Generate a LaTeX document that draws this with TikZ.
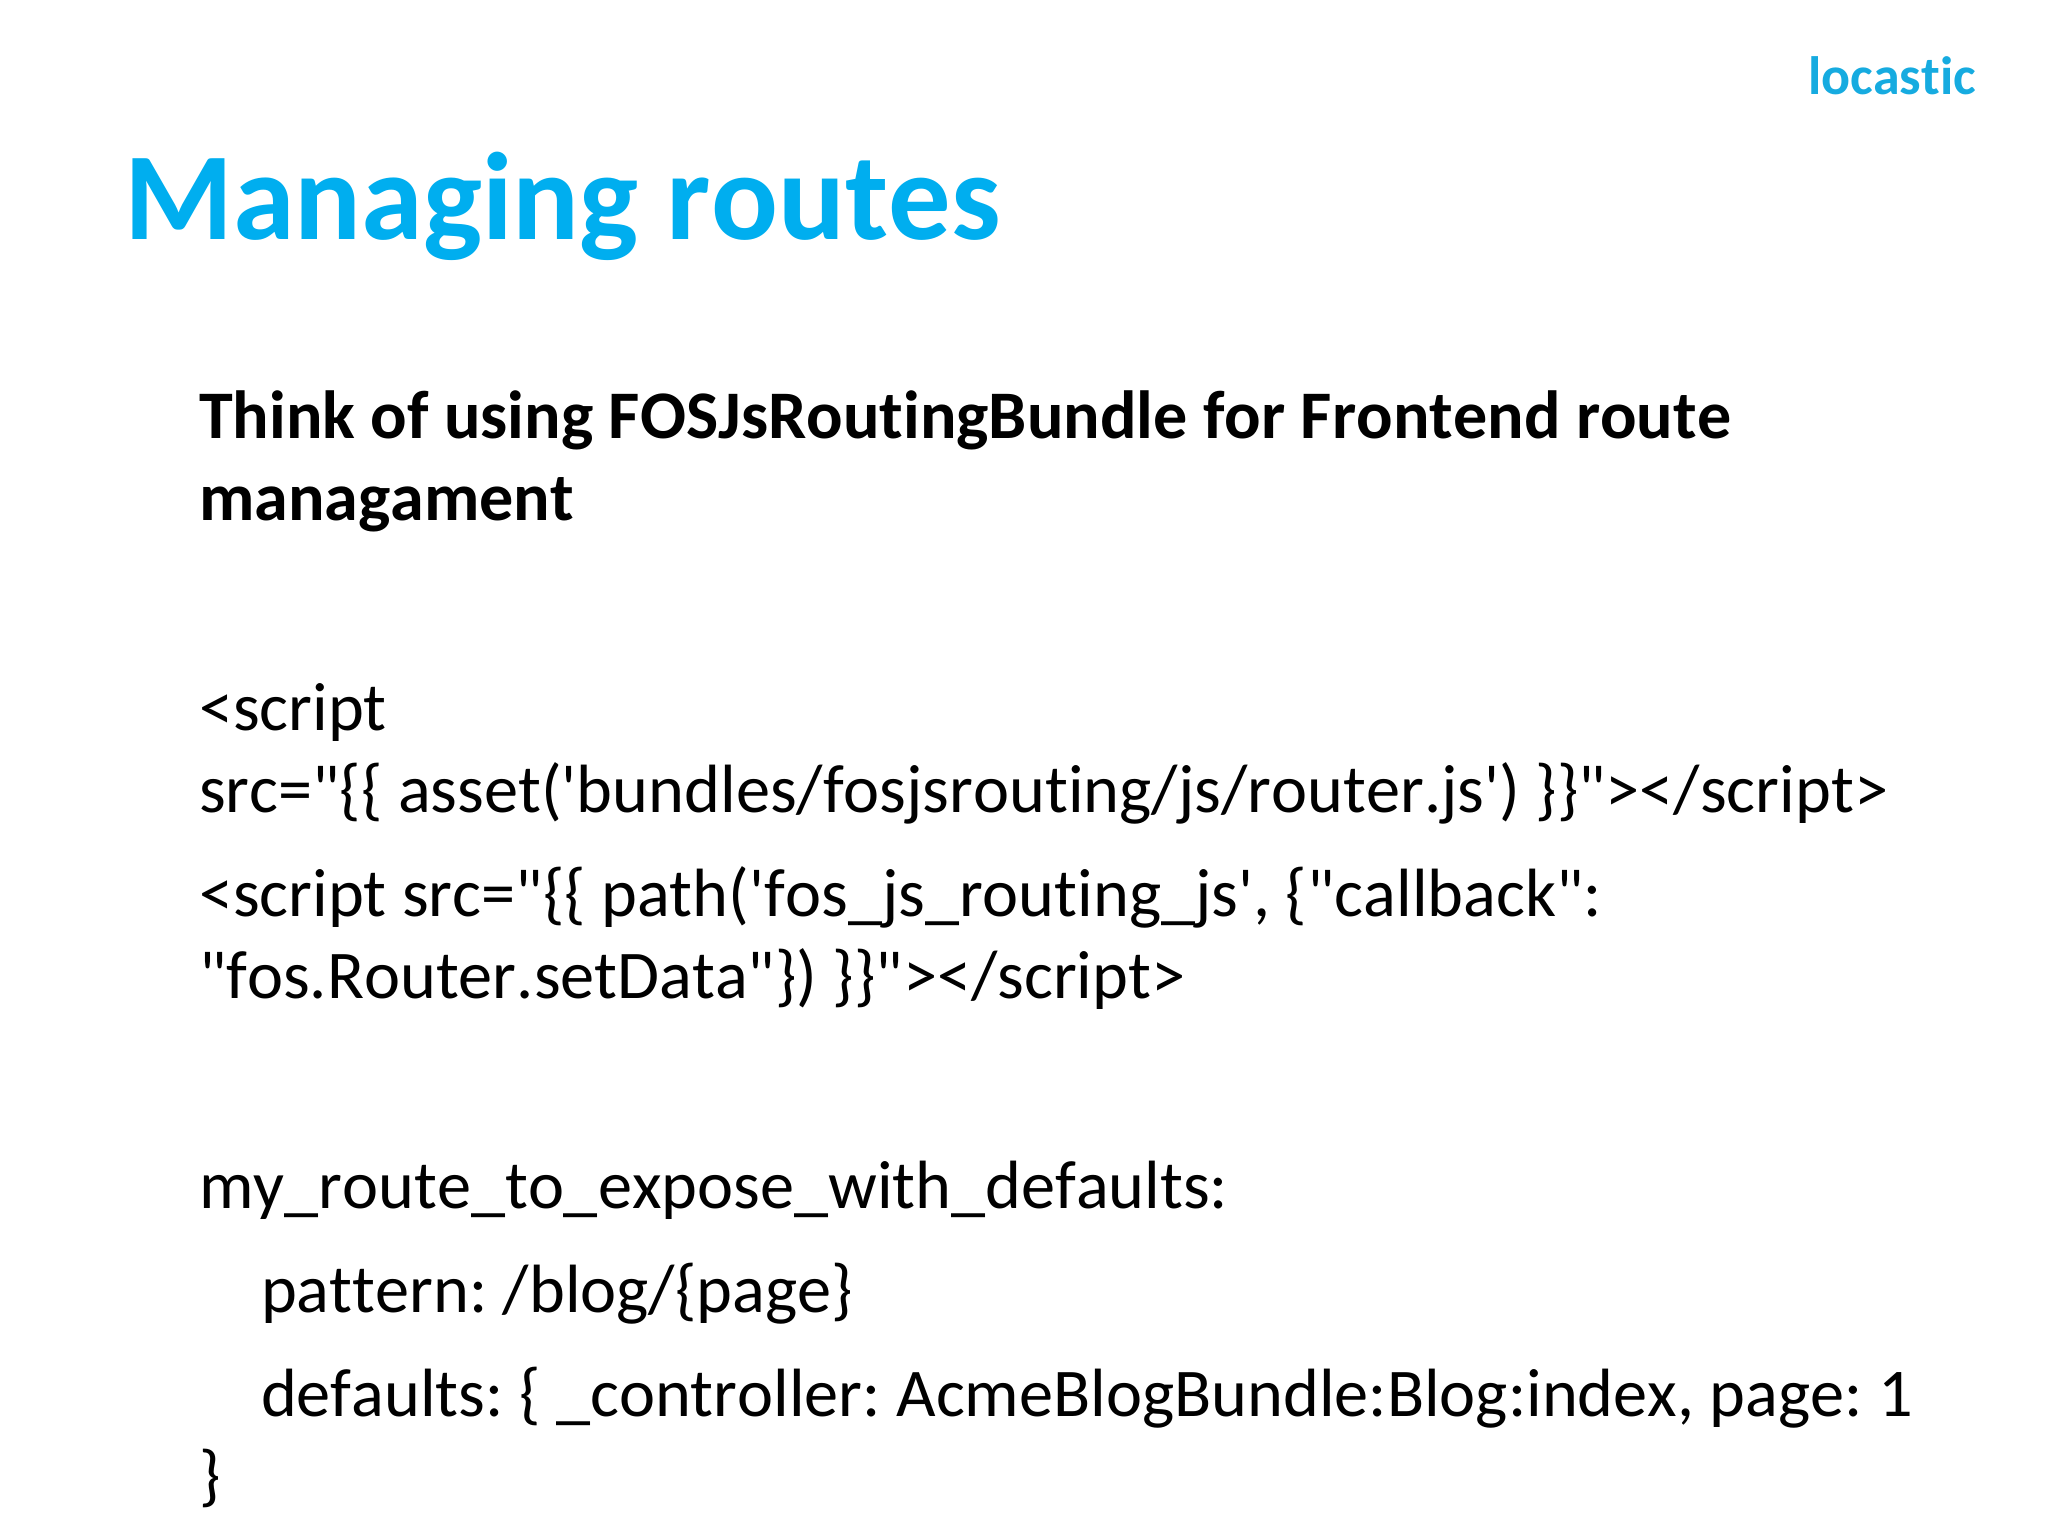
\documentclass[tikz,border=0pt]{standalone}
\usepackage{fontspec}
\setmainfont{Carlito}[Ligatures={TeXOff,CommonOff},Kerning=Off]
\definecolor{titleblue}{HTML}{00AEEF}
\definecolor{logoblue}{HTML}{16ABE0}
\tikzset{
  line/.style={anchor=base west,inner sep=0pt,outer sep=0pt,font=\fontsize{68.3}{80}\selectfont\frenchspacing,text=black},
  bold/.style={line,font=\fontsize{68.1}{80}\selectfont\bfseries\frenchspacing},
  title/.style={anchor=base west,inner sep=0pt,text=titleblue,font=\fontsize{124.6}{130}\selectfont\bfseries},
  logo/.style={anchor=base east,inner sep=0pt,text=logoblue,font=\fontsize{54}{60}\selectfont\bfseries}
}
\begin{document}
\begin{tikzpicture}[x=1pt,y=-1pt]
\useasboundingbox (0,0) rectangle (2048,1536);
\fill[white] (0,0) rectangle (2048,1536);
\node[logo] (lg) at (1976,95) {locastic};
\node[title] (t) at (124,239) {Managing routes};
\node[bold] (a1) at (199,438) {Think of using FOSJsRoutingBundle for Frontend route};
\node[bold] (a2) at (199,520) {managament};
\node[line] (b1) at (199,730) {<script};
\node[line] (b2) at (199,812) {src="\{\{ asset('bundles/fosjsrouting/js/router.js') \}\}"></script>};
\node[line] (b3) at (199,916) {<script src="\{\{ path('fos\_js\_routing\_js', \{"callback":};
\node[line] (b4) at (199,998) {"fos.Router.setData"\}) \}\}"></script>};
\node[line] (c1) at (199,1208) {my\_route\_to\_expose\_with\_defaults:};
\node[line] (c2) at (261,1312) {pattern: /blog/\{page\}};
\node[line] (c3) at (261,1416) {defaults: \{ \_controller: AcmeBlogBundle:Blog:index, page: 1};
\node[line] (c4) at (199,1498) {\}};
\end{tikzpicture}
\end{document}
